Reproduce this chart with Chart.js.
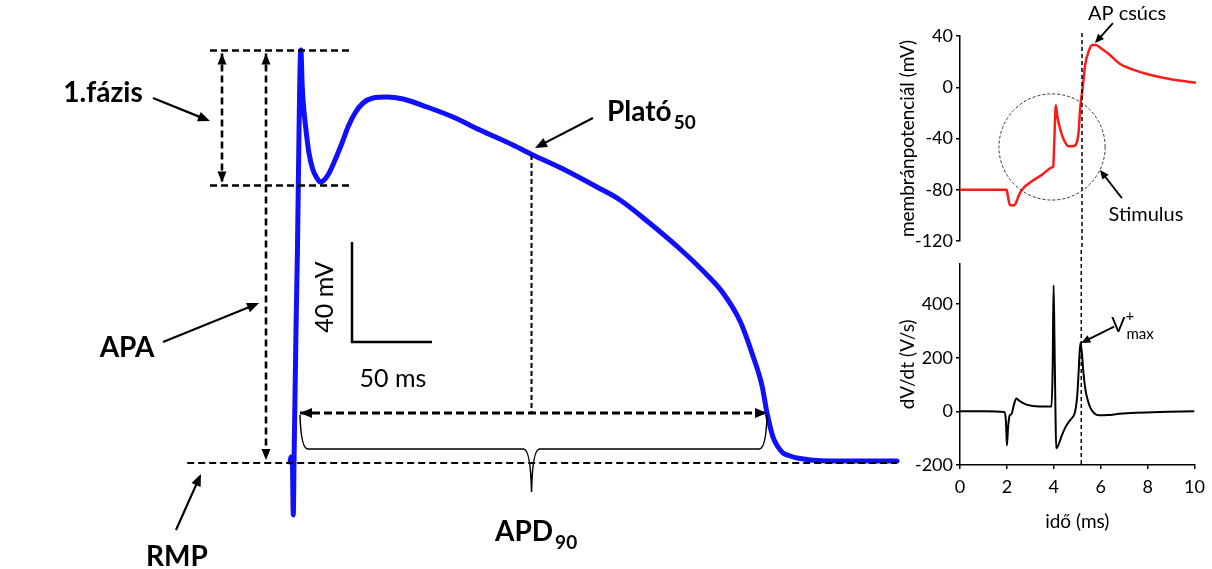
<!DOCTYPE html>
<html>
<head>
<meta charset="utf-8">
<script src="https://cdn.jsdelivr.net/npm/chart.js@4.4.1/dist/chart.umd.min.js"></script>
<style>
  html, body { margin: 0; padding: 0; background: #fff; }
  #wrap { position: relative; width: 1212px; height: 569px; overflow: hidden; background: #fff; }
  canvas { position: absolute; }
  #ap { left: 0; top: 0; }
  #vm { left: 880px; top: 0; }
  #dvdt { left: 880px; top: 250px; }
</style>
</head>
<body>
<div id="wrap">
  <canvas id="ap" width="1212" height="569"></canvas>
  <canvas id="vm" width="332" height="260"></canvas>
  <canvas id="dvdt" width="332" height="319"></canvas>
</div>
<script>
// Ventricular action potential: time from upstroke (ms), membrane potential (mV)
const apTime = [-3.75, -3.1, -2.3, -1.7, -1.25, 0, 0.9, 1.9, 2.5, 3.1, 3.75, 4.4, 6.25, 8.1, 10.6, 13.1, 15, 16.9,
  20, 24.4, 28.75, 32.5, 36.9, 41.9, 48.1, 56.9, 66.9, 81.9, 98.1, 115, 135.6, 148.1, 166.9, 188.1, 202.5, 219.4,
  240, 256.9, 266.9, 277.5, 285.6, 291.3, 294.4, 298.1, 301.3, 304.4, 308.8, 313.1, 333.8, 352.5, 375.6];
const apVoltage = [-84.6, -82.6, -83, -105.8, -85, -31.8, 0.2, 48.2, 72.2, 80.2, 68.2, 60.2, 48.2, 39, 32.2, 29, 27.4, 27.8,
  30.2, 36.2, 43, 49.4, 55, 59, 61, 61.4, 60.6, 57.4, 53.4, 48.2, 42.2, 38.2, 32.6, 25.4, 20.2, 11.8,
  0.6, -9.8, -17, -28.2, -42.2, -54.2, -65, -74.6, -78.6, -81, -82.2, -83, -84.2, -84.2, -84.2];

// Characteristic values of the action potential
const RMP = -85;          // resting membrane potential (mV)
const AP_PEAK = 80;       // peak of phase 0 (mV)
const NOTCH = 26;         // bottom of the phase-1 notch (mV)
const APD90 = 294.4;      // action potential duration at 90 % repolarisation (ms)
const V90 = -65;          // potential at APD90 (mV)
const PLATEAU_T = APD90 / 2;  // time of the plateau-50 reading (ms)
const PLATEAU_50 = 38.2;  // plateau potential at 50 % of APD90 (mV)
const SCALE_MV = 40, SCALE_MS = 50;

// Upstroke detail (inset): time (ms) and membrane potential (mV)
const upTime = [0, 1.98, 2.0, 2.06, 2.12, 2.3, 2.4, 2.5, 2.67, 3.0, 3.5, 3.92, 3.95, 4.0, 4.06, 4.12, 4.25, 4.4, 4.6, 4.8, 4.95,
  5.02, 5.1, 5.2, 5.3, 5.45, 5.6, 5.75, 6.0, 6.3, 6.8, 7.3, 8.0, 9.0, 10];
const upVm = [-80, -80, -82, -88, -92, -92, -89, -84, -79, -74, -68, -62.4, -62, -40, -14, -22, -33, -41, -46, -46, -43,
  -36, -15, 0, 17, 28, 33, 33, 30, 26, 18, 14, 10, 6, 3.5];

// First derivative of the upstroke: time (ms) and dV/dt (V/s)
const dvdtTime = [0, 1.0, 1.9, 1.96, 2.0, 2.05, 2.12, 2.19, 2.3, 2.4, 2.55, 2.83, 3.39, 3.9, 3.95, 3.99, 4.03, 4.07,
  4.1, 4.17, 4.24, 4.35, 4.52, 4.65, 4.8, 4.88, 4.94, 5.0, 5.06, 5.13, 5.2, 5.25, 5.35, 5.43, 5.55, 5.72, 5.93,
  6.3, 6.8, 7.5, 8.5, 10];
const dvdt = [0, 0, -2, -40, -127, -60, -15, -11, 25, 48, 38, 25, 18, 18, 160, 470, 250, 0,
  -138, -130, -115, -88, -55, -38, -22, -10, 15, 60, 150, 255, 215, 156, 80, 47, 15, -7, -15,
  -14, -9, -5, -2, 0];

const VMAX_T = 5.17;      // time of maximal upstroke velocity (ms)
const VMAX = 255;         // V+max (V/s)

const vmTicks = [-120, -80, -40, 0, 40];
const dvdtTicks = [-200, 0, 200, 400];
const timeTicks = [0, 2, 4, 6, 8, 10];

const FONT = 'Lato, "Open Sans", "DejaVu Sans", sans-serif';

// ---------- drawing helpers ----------
function seg(ctx, x1, y1, x2, y2, w, dash) {
  ctx.save();
  ctx.lineWidth = w;
  ctx.setLineDash(dash || []);
  ctx.beginPath();
  ctx.moveTo(x1, y1);
  ctx.lineTo(x2, y2);
  ctx.stroke();
  ctx.restore();
}
function head(ctx, x1, y1, x2, y2, len, half) {
  const a = Math.atan2(y2 - y1, x2 - x1);
  const c = Math.cos(a), s = Math.sin(a);
  ctx.beginPath();
  ctx.moveTo(x2, y2);
  ctx.lineTo(x2 - len * c + half * s, y2 - len * s - half * c);
  ctx.lineTo(x2 - len * c - half * s, y2 - len * s + half * c);
  ctx.closePath();
  ctx.fill();
}
function arrow(ctx, x1, y1, x2, y2, w, len, half) {
  const a = Math.atan2(y2 - y1, x2 - x1);
  seg(ctx, x1, y1, x2 - len * 0.7 * Math.cos(a), y2 - len * 0.7 * Math.sin(a), w);
  head(ctx, x1, y1, x2, y2, len, half);
}
function doubleArrow(ctx, x1, y1, x2, y2, w, dash, len, half) {
  seg(ctx, x1, y1, x2, y2, w, dash);
  head(ctx, x2, y2, x1, y1, len, half);
  head(ctx, x1, y1, x2, y2, len, half);
}
function text(ctx, str, x, y, font, align, base) {
  ctx.font = font;
  ctx.textAlign = align || 'center';
  ctx.textBaseline = base || 'middle';
  ctx.fillText(str, x, y);
}

// ---------- annotations of the main trace ----------
const apAnnotations = {
  id: 'apAnnotations',
  afterDatasetsDraw(chart) {
    const { ctx, scales: { x, y } } = chart;
    const X = t => x.getPixelForValue(t);
    const Y = v => y.getPixelForValue(v);
    ctx.save();
    ctx.strokeStyle = '#000';
    ctx.fillStyle = '#000';

    // reference levels
    seg(ctx, X(-53.75), Y(AP_PEAK), X(35), Y(AP_PEAK), 2.4, [7, 4]);
    seg(ctx, X(-53.75), Y(NOTCH), X(35), Y(NOTCH), 2.4, [7, 4]);
    seg(ctx, X(-68), Y(RMP), X(375.6), Y(RMP), 2.2, [7, 4]);

    // phase 1 amplitude and APA
    doubleArrow(ctx, X(-46.25), Y(AP_PEAK) + 3, X(-46.25), Y(NOTCH) - 3, 2.6, [7, 4], 11, 4.5);
    doubleArrow(ctx, X(-18.75), Y(AP_PEAK) + 3, X(-18.75), Y(RMP) - 3, 2.6, [7, 4], 11, 4.5);

    // APD90
    doubleArrow(ctx, X(2.5), Y(V90), X(APD90), Y(V90), 2.8, [8, 4], 12, 5);
    seg(ctx, X(PLATEAU_T), Y(PLATEAU_50), X(PLATEAU_T), Y(V90), 2, [5, 3]);

    // brace under the APD90 arrow
    const bx0 = X(2.5), bx1 = X(APD90), bm = X(PLATEAU_T);
    const bTop = Y(V90) + 2, bBot = Y(-79.4), bTip = Y(-96.6);
    ctx.save();
    ctx.lineWidth = 1.5;
    ctx.beginPath();
    ctx.moveTo(bx0, bTop);
    ctx.quadraticCurveTo(bx0 + 1, bBot, bx0 + 8, bBot);
    ctx.lineTo(bm - 8, bBot);
    ctx.quadraticCurveTo(bm - 1, bBot, bm, bTip);
    ctx.quadraticCurveTo(bm + 1, bBot, bm + 8, bBot);
    ctx.lineTo(bx1 - 8, bBot);
    ctx.quadraticCurveTo(bx1 - 1, bBot, bx1, bTop);
    ctx.stroke();
    ctx.restore();

    // scale bar
    const sx = 35, sv = -36.6;
    ctx.save();
    ctx.lineWidth = 2.5;
    ctx.lineCap = 'butt';
    ctx.beginPath();
    ctx.moveTo(X(sx), Y(sv + SCALE_MV));
    ctx.lineTo(X(sx), Y(sv));
    ctx.lineTo(X(sx + SCALE_MS), Y(sv));
    ctx.stroke();
    ctx.restore();
    ctx.save();
    ctx.translate(X(18.1), Y(-18.6));
    ctx.rotate(-Math.PI / 2);
    text(ctx, SCALE_MV + ' mV', 0, 0, '25px ' + FONT);
    ctx.restore();
    text(ctx, SCALE_MS + ' ms', X(60.6), Y(-51.4), '25px ' + FONT);

    // labels with pointer arrows
    const bold = 'bold 28px ' + FONT;
    const sub = 'bold 19px ' + FONT;
    text(ctx, '1.fázis', X(-120.6), Y(63), bold);
    arrow(ctx, X(-89.4), Y(61), X(-53.75), Y(51.8), 2.2, 12, 5);

    text(ctx, 'APA', X(-105.6), Y(-39), bold);
    arrow(ctx, X(-83.1), Y(-36.6), X(-23.1), Y(-21), 2.2, 12, 5);

    text(ctx, 'RMP', X(-74.4), Y(-122.6), bold);
    arrow(ctx, X(-75), Y(-111.8), X(-59.4), Y(-89.4), 2.2, 12, 5);

    ctx.font = bold;
    const pw = ctx.measureText('Plató').width;
    text(ctx, 'Plató', X(194.4), Y(55.4), bold, 'left');
    text(ctx, '50', X(194.4) + pw + 2, Y(55.4) + 11, sub, 'left');
    arrow(ctx, X(185.6), Y(53), X(149.4), Y(41), 2.2, 12, 5);

    ctx.font = bold;
    const aw = ctx.measureText('APD').width;
    text(ctx, 'APD', X(124.4), Y(-112.6), bold, 'left');
    text(ctx, '90', X(124.4) + aw + 2, Y(-112.6) + 11, sub, 'left');

    ctx.restore();
  }
};

new Chart(document.getElementById('ap'), {
  type: 'line',
  data: {
    datasets: [{
      data: apTime.map((t, i) => ({ x: t, y: apVoltage[i] })),
      borderColor: '#1010ff',
      borderWidth: 5,
      pointRadius: 0,
      cubicInterpolationMode: 'monotone',
      fill: false,
      borderJoinStyle: 'round',
      borderCapStyle: 'round'
    }]
  },
  options: {
    responsive: false,
    animation: false,
    events: [],
    layout: { padding: 0 },
    plugins: { legend: { display: false }, tooltip: { enabled: false } },
    scales: {
      x: { type: 'linear', display: false, min: -185, max: 572.5 },
      y: { type: 'linear', display: false, min: -127.4, max: 100.2 }
    }
  },
  plugins: [apAnnotations]
});

// ---------- inset axes ----------
function yAxis(min, max, ticks, title) {
  return {
    type: 'linear', position: 'left', min, max,
    afterBuildTicks: s => { s.ticks = ticks.map(v => ({ value: v })); },
    afterFit: s => { s.width = 80; },
    grid: { drawOnChartArea: false, drawTicks: true, tickLength: 4, color: '#000', lineWidth: 1.5 },
    border: { display: true, color: '#000', width: 1.5 },
    ticks: { color: '#000', font: { family: FONT, size: 18 }, padding: 3 },
    title: { display: true, text: title, color: '#000', font: { family: FONT, size: 19 }, padding: { top: 16, bottom: 0 } }
  };
}
const baseOpts = {
  responsive: false,
  animation: false,
  events: [],
  plugins: { legend: { display: false }, tooltip: { enabled: false } }
};

const vmAnnotations = {
  id: 'vmAnnotations',
  afterDatasetsDraw(chart) {
    const { ctx, scales: { x, y } } = chart;
    const X = t => x.getPixelForValue(t);
    const Y = v => y.getPixelForValue(v);
    ctx.save();
    ctx.strokeStyle = '#000';
    ctx.fillStyle = '#000';
    seg(ctx, X(VMAX_T), 33, X(VMAX_T), chart.height - 10, 1.5, [4, 3]);
    // stimulus region
    ctx.save();
    ctx.strokeStyle = '#333';
    ctx.lineWidth = 1;
    ctx.setLineDash([3, 2]);
    ctx.beginPath();
    ctx.arc(X(3.9), Y(-46.6), x.getPixelForValue(2.25) - x.getPixelForValue(0), 0, Math.PI * 2);
    ctx.stroke();
    ctx.restore();
    text(ctx, 'AP csúcs', X(7.08), Y(57.2), '20px ' + FONT);
    arrow(ctx, X(6.48), Y(50.1), X(5.72), Y(34.5), 1.8, 9, 4);
    text(ctx, 'Stimulus', X(7.88), Y(-99), '20px ' + FONT);
    arrow(ctx, X(6.86), Y(-86.5), X(5.93), Y(-64.6), 1.8, 9, 4);
    ctx.restore();
  }
};

new Chart(document.getElementById('vm'), {
  type: 'line',
  data: {
    datasets: [{
      data: upTime.map((t, i) => ({ x: t, y: upVm[i] })),
      borderColor: '#ff1a1a', borderWidth: 2.5, pointRadius: 0, cubicInterpolationMode: 'monotone', fill: false
    }]
  },
  options: Object.assign({}, baseOpts, {
    layout: { padding: { left: 0, top: 36, right: 16, bottom: 19 } },
    scales: {
      x: { type: 'linear', display: false, min: 0, max: 10 },
      y: yAxis(-120, 40, vmTicks, 'membránpotenciál (mV)')
    }
  }),
  plugins: [vmAnnotations]
});

const dvdtAnnotations = {
  id: 'dvdtAnnotations',
  afterDatasetsDraw(chart) {
    const { ctx, scales: { x, y } } = chart;
    const X = t => x.getPixelForValue(t);
    const Y = v => y.getPixelForValue(v);
    ctx.save();
    ctx.strokeStyle = '#000';
    ctx.fillStyle = '#000';
    seg(ctx, X(VMAX_T), 0, X(VMAX_T), chart.chartArea.bottom, 1.5, [4, 3]);
    arrow(ctx, X(6.57), Y(316), X(VMAX_T), Y(VMAX), 1.8, 9, 4);
    const vx = X(6.45), vy = Y(320);
    text(ctx, 'V', vx, vy, '21px ' + FONT, 'left');
    ctx.font = '21px ' + FONT;
    const w = ctx.measureText('V').width;
    text(ctx, '+', vx + w, vy - 9, '15px ' + FONT, 'left');
    text(ctx, 'max', vx + w + 1, vy + 9, '15px ' + FONT, 'left');
    ctx.restore();
  }
};

new Chart(document.getElementById('dvdt'), {
  type: 'line',
  data: {
    datasets: [{
      data: dvdtTime.map((t, i) => ({ x: t, y: dvdt[i] })),
      borderColor: '#000', borderWidth: 2, pointRadius: 0, cubicInterpolationMode: 'monotone', fill: false
    }]
  },
  options: Object.assign({}, baseOpts, {
    layout: { padding: { left: 0, top: 8, right: 16, bottom: 36 } },
    scales: {
      x: {
        type: 'linear', position: 'bottom', min: 0, max: 10,
        afterBuildTicks: s => { s.ticks = timeTicks.map(v => ({ value: v })); },
        afterFit: s => { s.height = 68; },
        grid: { drawOnChartArea: false, drawTicks: true, tickLength: 4, color: '#000', lineWidth: 1.5 },
        border: { display: true, color: '#000', width: 1.5 },
        ticks: { color: '#000', font: { family: FONT, size: 18 }, padding: 7, maxRotation: 0 },
        title: { display: true, text: 'idő (ms)', color: '#000', font: { family: FONT, size: 19 }, padding: { top: 0, bottom: 0 } }
      },
      y: yAxis(-200, 550, dvdtTicks, 'dV/dt (V/s)')
    }
  }),
  plugins: [dvdtAnnotations]
});
</script>
</body>
</html>
